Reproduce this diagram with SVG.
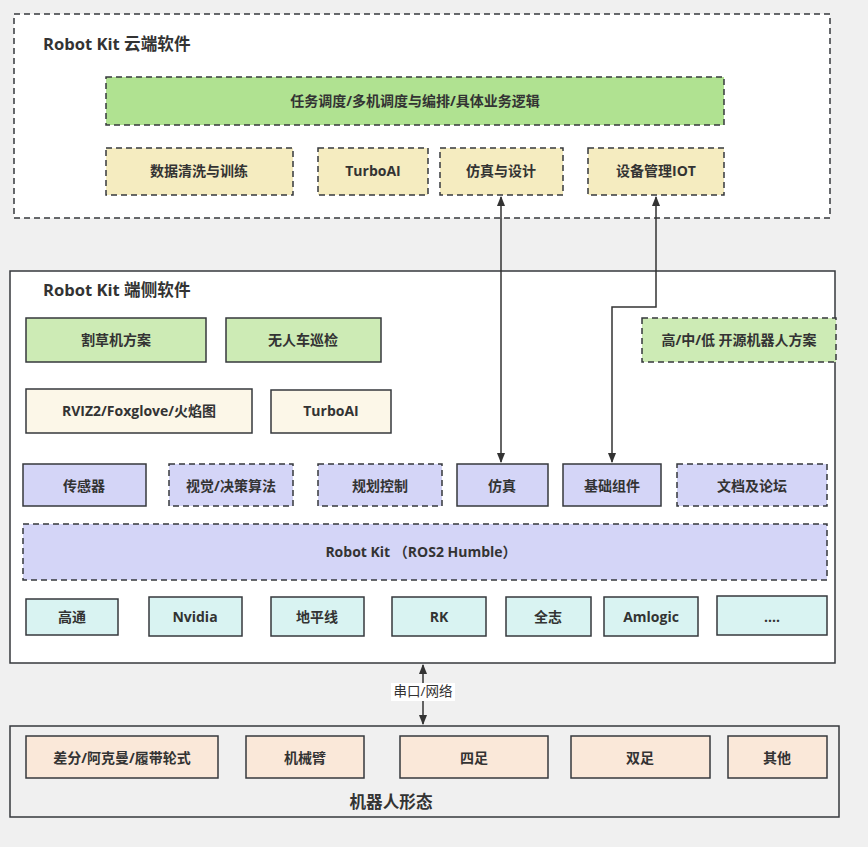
<svg xmlns="http://www.w3.org/2000/svg" width="868" height="847" viewBox="0 0 868 847">
<defs>
<marker id="ah" viewBox="0 0 10 10" refX="9" refY="5" markerWidth="7" markerHeight="7" orient="auto-start-reverse"><path d="M0,1 L10,5 L0,9 Z" fill="#333"/></marker>
<style>
text{font-family:"Open Sans","Noto Sans CJK SC",sans-serif;font-weight:bold;fill:#333;text-anchor:middle;dominant-baseline:central;font-size:14px}
.t{font-size:16.6px;text-anchor:start}
.b{stroke:#36393d;stroke-width:1.5}
.d{stroke-dasharray:6 4}
.g{fill:#b0e291}.y{fill:#f5ecc0}.lg{fill:#cdebb5}.c{fill:#fcf7e8}.p{fill:#d4d5f7}.cy{fill:#d9f3f2}.o{fill:#fae8d9}
.w{fill:#fff}
.line{stroke:#333;stroke-width:1.5;fill:none}
</style>
</defs>
<rect width="868" height="847" fill="#f0f0f0"/>
<g id="cloud">
<rect class="b d w" x="14" y="14" width="816" height="204"/>
<text class="t" x="43" y="43">Robot Kit 云端软件</text>
</g>
<g id="task"><rect class="b d g" x="106" y="77" width="618" height="48"/><text x="415" y="100">任务调度/多机调度与编排/具体业务逻辑</text></g>
<g id="data"><rect class="b d y" x="106" y="148" width="187" height="47"/><text x="199" y="170">数据清洗与训练</text></g>
<g id="turboai-cloud"><rect class="b d y" x="318" y="148" width="110" height="47"/><text x="373" y="170">TurboAI</text></g>
<g id="simdesign"><rect class="b d y" x="440" y="148" width="123" height="47"/><text x="501" y="170">仿真与设计</text></g>
<g id="iot"><rect class="b d y" x="588" y="148" width="136" height="47"/><text x="656" y="170">设备管理IOT</text></g>

<g id="edge">
<rect class="b w" x="10" y="271" width="825" height="392"/>
<text class="t" x="43" y="289">Robot Kit 端侧软件</text>
</g>
<g id="mower"><rect class="b lg" x="26" y="318" width="180" height="44"/><text x="116" y="339">割草机方案</text></g>
<g id="patrol"><rect class="b lg" x="226" y="318" width="155" height="44"/><text x="303" y="339">无人车巡检</text></g>
<g id="opensrc"><rect class="b d lg" x="642" y="318" width="194" height="44"/><text x="739" y="339">高/中/低 开源机器人方案</text></g>
<g id="rviz"><rect class="b c" x="26" y="389" width="226" height="44"/><text x="139" y="410">RVIZ2/Foxglove/火焰图</text></g>
<g id="turboai-edge"><rect class="b c" x="271" y="390" width="120" height="43"/><text x="331" y="410">TurboAI</text></g>

<g id="sensor"><rect class="b p" x="23" y="464" width="123" height="42"/><text x="84" y="485">传感器</text></g>
<g id="vision"><rect class="b d p" x="169" y="464" width="124" height="42"/><text x="231" y="485">视觉/决策算法</text></g>
<g id="plan"><rect class="b d p" x="318" y="464" width="124" height="42"/><text x="380" y="485">规划控制</text></g>
<g id="sim"><rect class="b p" x="457" y="464" width="91" height="42"/><text x="502" y="485">仿真</text></g>
<g id="base"><rect class="b p" x="563" y="464" width="98" height="42"/><text x="612" y="485">基础组件</text></g>
<g id="docs"><rect class="b d p" x="677" y="464" width="150" height="42"/><text x="752" y="485">文档及论坛</text></g>
<g id="ros"><rect class="b d p" x="23" y="524" width="804" height="56"/><text x="421" y="551">Robot Kit （ROS2 Humble）</text></g>

<g id="qcom"><rect class="b cy" x="26" y="599" width="92" height="36"/><text x="72" y="616">高通</text></g>
<g id="nvidia"><rect class="b cy" x="149" y="597" width="93" height="39"/><text x="195" y="616">Nvidia</text></g>
<g id="horizon"><rect class="b cy" x="271" y="597" width="93" height="39"/><text x="317" y="616">地平线</text></g>
<g id="rk"><rect class="b cy" x="392" y="597" width="94" height="39"/><text x="439" y="616">RK</text></g>
<g id="allwinner"><rect class="b cy" x="506" y="597" width="85" height="39"/><text x="548" y="616">全志</text></g>
<g id="amlogic"><rect class="b cy" x="604" y="597" width="94" height="39"/><text x="651" y="616">Amlogic</text></g>
<g id="more"><rect class="b cy" x="717" y="596" width="110" height="39"/><text x="772" y="616">....</text></g>

<g id="forms">
<rect class="b" fill="#f0f0f0" x="10" y="726" width="829" height="91"/>
<text class="t" x="391" y="801" style="text-anchor:middle">机器人形态</text>
</g>
<g id="diff"><rect class="b o" x="26" y="736" width="192" height="42"/><text x="122" y="757">差分/阿克曼/履带轮式</text></g>
<g id="arm"><rect class="b o" x="246" y="736" width="118" height="42"/><text x="305" y="757">机械臂</text></g>
<g id="quad"><rect class="b o" x="400" y="736" width="148" height="42"/><text x="474" y="757">四足</text></g>
<g id="biped"><rect class="b o" x="571" y="736" width="139" height="42"/><text x="640" y="757">双足</text></g>
<g id="other"><rect class="b o" x="728" y="736" width="99" height="42"/><text x="777" y="757">其他</text></g>

<g id="connectors">
<path class="line" d="M501,197 L501,462" marker-start="url(#ah)" marker-end="url(#ah)"/>
<path class="line" d="M656,197 L656,307 L612,307 L612,462" marker-start="url(#ah)" marker-end="url(#ah)"/>
<path class="line" d="M423,665 L423,724" marker-start="url(#ah)" marker-end="url(#ah)"/>
<rect x="391" y="683" width="64" height="18" fill="#fff"/>
<text x="423" y="691" style="font-weight:normal;font-size:13.5px">串口/网络</text>
</g>
</svg>
